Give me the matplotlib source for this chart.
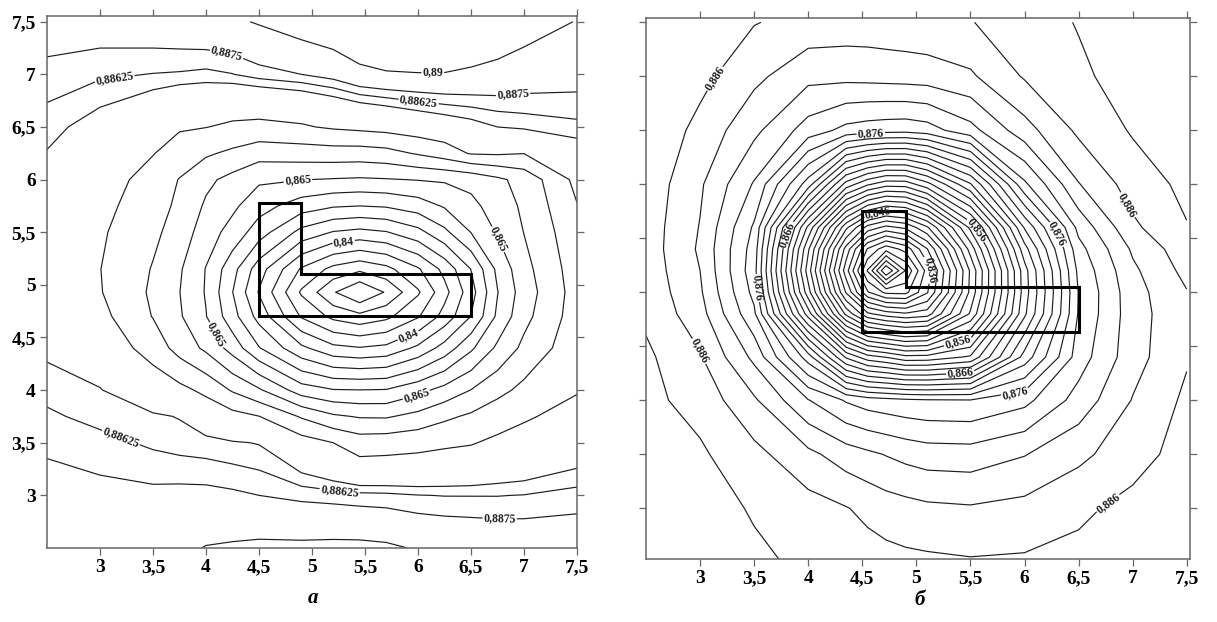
import matplotlib
matplotlib.use("Agg")
import matplotlib.pyplot as plt
from matplotlib.ticker import FuncFormatter

plt.rcParams["font.family"] = ["Liberation Serif", "DejaVu Serif"]
plt.rcParams["font.weight"] = "bold"

# ---- panel "а": field values (rows = y, columns = x)
x_a = [2.5, 3.0, 3.5, 3.75, 4.0, 4.25, 4.5, 4.9, 5.2, 5.45, 5.7, 6.0, 6.25, 6.5, 6.75, 7.0, 7.5]
y_a = [2.5, 3.0, 3.5, 3.75, 4.0, 4.4, 4.7, 4.93, 5.15, 5.5, 5.75, 6.0, 6.25, 6.5, 7.0, 7.5]
z_a = [
    [0.8889, 0.8887, 0.8889, 0.8895, 0.8901, 0.8903, 0.8905, 0.8905, 0.8906, 0.8906, 0.8904, 0.8898, 0.8895, 0.8893, 0.8891, 0.8890, 0.8888],
    [0.8882, 0.8880, 0.8879, 0.8880, 0.8880, 0.8878, 0.8875, 0.8871, 0.8869, 0.8867, 0.8866, 0.8863, 0.8862, 0.8862, 0.8862, 0.8863, 0.8868],
    [0.8872, 0.8867, 0.8860, 0.8857, 0.8855, 0.8852, 0.8849, 0.8822, 0.8800, 0.8776, 0.8779, 0.8785, 0.8792, 0.8797, 0.8809, 0.8816, 0.8833],
    [0.8865, 0.8858, 0.8853, 0.8849, 0.8836, 0.8817, 0.8801, 0.8745, 0.8708, 0.8696, 0.8695, 0.8715, 0.8740, 0.8758, 0.8780, 0.8795, 0.8815],
    [0.8858, 0.8851, 0.8831, 0.8814, 0.8788, 0.8745, 0.8707, 0.8625, 0.8603, 0.8601, 0.8603, 0.8635, 0.8667, 0.8701, 0.8735, 0.8763, 0.8797],
    [0.8846, 0.8835, 0.8779, 0.8731, 0.8690, 0.8630, 0.8553, 0.8461, 0.8413, 0.8403, 0.8413, 0.8461, 0.8520, 0.8591, 0.8660, 0.8712, 0.8783],
    [0.8838, 0.8815, 0.8748, 0.8706, 0.8652, 0.8569, 0.8482, 0.8345, 0.8287, 0.8265, 0.8287, 0.8345, 0.8418, 0.8501, 0.8610, 0.8685, 0.8775],
    [0.8835, 0.8803, 0.8742, 0.8701, 0.8646, 0.8551, 0.8446, 0.8293, 0.8205, 0.8150, 0.8205, 0.8293, 0.8383, 0.8479, 0.8598, 0.8675, 0.8772],
    [0.8836, 0.8801, 0.8747, 0.8706, 0.8648, 0.8568, 0.8473, 0.8344, 0.8285, 0.8261, 0.8285, 0.8344, 0.8415, 0.8501, 0.8612, 0.8684, 0.8776],
    [0.8840, 0.8807, 0.8760, 0.8730, 0.8673, 0.8632, 0.8574, 0.8484, 0.8447, 0.8436, 0.8447, 0.8484, 0.8538, 0.8601, 0.8655, 0.8701, 0.8785],
    [0.8842, 0.8815, 0.8771, 0.8740, 0.8693, 0.8660, 0.8620, 0.8575, 0.8555, 0.8550, 0.8555, 0.8575, 0.8605, 0.8637, 0.8672, 0.8709, 0.8798],
    [0.8845, 0.8825, 0.8780, 0.8748, 0.8711, 0.8685, 0.8658, 0.8651, 0.8647, 0.8644, 0.8647, 0.8652, 0.8656, 0.8665, 0.8690, 0.8717, 0.8814],
    [0.8849, 0.8833, 0.8802, 0.8778, 0.8757, 0.8740, 0.8720, 0.8725, 0.8728, 0.8727, 0.8733, 0.8755, 0.8775, 0.8804, 0.8806, 0.8801, 0.8838],
    [0.8856, 0.8841, 0.8821, 0.8805, 0.8801, 0.8792, 0.8788, 0.8795, 0.8806, 0.8812, 0.8818, 0.8828, 0.8835, 0.8842, 0.8850, 0.8854, 0.8859],
    [0.8870, 0.8865, 0.8862, 0.8861, 0.8859, 0.8862, 0.8869, 0.8875, 0.8882, 0.8894, 0.8898, 0.8899, 0.8899, 0.8896, 0.8892, 0.8887, 0.8883],
    [0.8885, 0.8885, 0.8888, 0.8890, 0.8893, 0.8896, 0.8902, 0.8913, 0.8920, 0.8925, 0.8928, 0.8930, 0.8928, 0.8925, 0.8920, 0.8912, 0.8899],
]
levels_a = [0.82, 0.825, 0.83, 0.835, 0.84, 0.845, 0.85, 0.855, 0.86, 0.865,
            0.87, 0.875, 0.88, 0.885, 0.88625, 0.8875, 0.89]
label_levels_a = [0.84, 0.865, 0.88625, 0.8875, 0.89]
box_a_x = [4.5, 6.5, 6.5, 4.9, 4.9, 4.5, 4.5]
box_a_y = [4.7, 4.7, 5.1, 5.1, 5.78, 5.78, 4.7]

# ---- panel "б"
x_b = [2.5, 3.0, 3.5, 4.0, 4.35, 4.55, 4.72, 4.9, 5.1, 5.5, 6.0, 6.5, 7.0, 7.5]
y_b = [2.5, 3.0, 3.5, 4.0, 4.4, 4.8, 5.0, 5.2, 5.4, 5.6, 6.0, 6.5, 7.0, 7.5]
z_b = [
    [0.8895, 0.8893, 0.8884, 0.8876, 0.8871, 0.8869, 0.8867, 0.8865, 0.8864, 0.8862, 0.8863, 0.8866, 0.8871, 0.8875],
    [0.8893, 0.8889, 0.8878, 0.8868, 0.8861, 0.8855, 0.8850, 0.8847, 0.8844, 0.8842, 0.8846, 0.8856, 0.8866, 0.8872],
    [0.8890, 0.8883, 0.8866, 0.8845, 0.8830, 0.8824, 0.8819, 0.8814, 0.8810, 0.8809, 0.8819, 0.8835, 0.8852, 0.8868],
    [0.8885, 0.8873, 0.8843, 0.8801, 0.8778, 0.8770, 0.8767, 0.8764, 0.8762, 0.8761, 0.8774, 0.8808, 0.8841, 0.8864],
    [0.8884, 0.8862, 0.8815, 0.8730, 0.8637, 0.8608, 0.8599, 0.8586, 0.8587, 0.8603, 0.8708, 0.8790, 0.8832, 0.8858],
    [0.8876, 0.8848, 0.8784, 0.8610, 0.8475, 0.8424, 0.8410, 0.8403, 0.8410, 0.8503, 0.8656, 0.8782, 0.8831, 0.8856],
    [0.8874, 0.8843, 0.8774, 0.8568, 0.8418, 0.8342, 0.8315, 0.8314, 0.8358, 0.8485, 0.8650, 0.8781, 0.8832, 0.8859],
    [0.8872, 0.8840, 0.8768, 0.8550, 0.8389, 0.8298, 0.8220, 0.8281, 0.8348, 0.8483, 0.8652, 0.8785, 0.8836, 0.8866],
    [0.8871, 0.8837, 0.8771, 0.8563, 0.8412, 0.8338, 0.8307, 0.8327, 0.8379, 0.8508, 0.8672, 0.8793, 0.8843, 0.8872],
    [0.8871, 0.8839, 0.8777, 0.8595, 0.8465, 0.8412, 0.8394, 0.8404, 0.8437, 0.8545, 0.8702, 0.8806, 0.8856, 0.8879],
    [0.8873, 0.8843, 0.8798, 0.8710, 0.8612, 0.8583, 0.8568, 0.8569, 0.8593, 0.8658, 0.8776, 0.8839, 0.8869, 0.8885],
    [0.8877, 0.8854, 0.8825, 0.8791, 0.8774, 0.8770, 0.8768, 0.8767, 0.8771, 0.8793, 0.8832, 0.8864, 0.8882, 0.8889],
    [0.8875, 0.8866, 0.8845, 0.8826, 0.8826, 0.8827, 0.8828, 0.8829, 0.8830, 0.8837, 0.8862, 0.8877, 0.8887, 0.8892],
    [0.8876, 0.8868, 0.8861, 0.8853, 0.8851, 0.8851, 0.8852, 0.8853, 0.8855, 0.8859, 0.8872, 0.8881, 0.8888, 0.8895],
]
levels_b = [0.824, 0.826, 0.828, 0.830, 0.832, 0.834, 0.836, 0.838, 0.840, 0.842,
            0.844, 0.846, 0.848, 0.850, 0.852, 0.854, 0.856, 0.858, 0.860, 0.862,
            0.864, 0.866, 0.868, 0.870, 0.872, 0.874, 0.876, 0.878, 0.880, 0.882,
            0.884, 0.886, 0.888]
label_levels_b = [0.826, 0.836, 0.846, 0.856, 0.866, 0.876, 0.886]
box_b_x = [4.5, 6.5, 6.5, 4.9, 4.9, 4.5, 4.5]
box_b_y = [4.63, 4.63, 5.05, 5.05, 5.75, 5.75, 4.63]

ticks = [3, 3.5, 4, 4.5, 5, 5.5, 6, 6.5, 7, 7.5]

# where the contour labels sit in the reference
label_pos_a = [(4.2, 7.22), (3.14, 6.95), (6.14, 7.02), (6.0, 6.69), (6.9, 6.77),
               (4.86, 6.05), (5.29, 5.49), (6.75, 5.43), (4.11, 4.53), (5.99, 4.32),
               (6.01, 3.86), (3.19, 3.53), (5.26, 3.03), (6.77, 2.84)]
label_pos_b = [(3.17, 6.96), (4.58, 6.44), (4.63, 5.8), (3.9, 5.51), (5.63, 5.62),
               (5.22, 5.25), (6.23, 5.51), (6.9, 5.78), (3.54, 5.04), (5.36, 4.63),
               (5.4, 4.37), (5.91, 4.09), (3.0, 4.46), (6.82, 2.98)]


def comma(v, pos=None):
    return ("%g" % v).replace(".", ",")


def draw(ax, x, y, z, levels, label_levels, label_pos, bx, by, show_y):
    plain = [v for v in levels if v not in label_levels]
    ax.contour(x, y, z, levels=plain, colors="#1e1e1e", linewidths=0.85)
    cs = ax.contour(x, y, z, levels=label_levels, colors="#1e1e1e", linewidths=0.85)
    txt = ax.clabel(cs, manual=label_pos, fmt=comma,
                    inline=True, inline_spacing=1, fontsize=8.5)
    for t in txt:
        t.set_fontweight("bold")
    ax.plot(bx, by, color="black", lw=2.2, solid_joinstyle="miter")
    ax.set_xticks(ticks)
    ax.set_yticks(ticks)
    ax.xaxis.set_major_formatter(FuncFormatter(comma))
    ax.yaxis.set_major_formatter(FuncFormatter(comma))
    ax.tick_params(direction="out", top=True, right=True, length=5, width=0.9,
                   color="#666666", labelsize=14, pad=3, labelleft=show_y)
    for s in ax.spines.values():
        s.set_color("#666666")
        s.set_linewidth(1.1)


fig = plt.figure(figsize=(12.17, 6.22), dpi=100)
ax1 = fig.add_axes([0.0386, 0.119, 0.4355, 0.8545])
ax2 = fig.add_axes([0.5308, 0.1013, 0.447, 0.8698])

ax1.set_xlim(2.5, 7.5)
ax1.set_ylim(2.5, 7.55)
draw(ax1, x_a, y_a, z_a, levels_a, label_levels_a, label_pos_a, box_a_x, box_a_y, True)
ax1.set_xlim(2.5, 7.5)
ax1.set_ylim(2.5, 7.55)

ax2.set_xlim(2.5, 7.53)
ax2.set_ylim(2.53, 7.54)
draw(ax2, x_b, y_b, z_b, levels_b, label_levels_b, label_pos_b, box_b_x, box_b_y, False)
ax2.set_xlim(2.5, 7.53)
ax2.set_ylim(2.53, 7.54)

fig.text(0.257, 0.03, "а", fontsize=15, style="italic", ha="center")
fig.text(0.756, 0.028, "б", fontsize=15, style="italic", ha="center")

fig.savefig("out.png", dpi=100)
